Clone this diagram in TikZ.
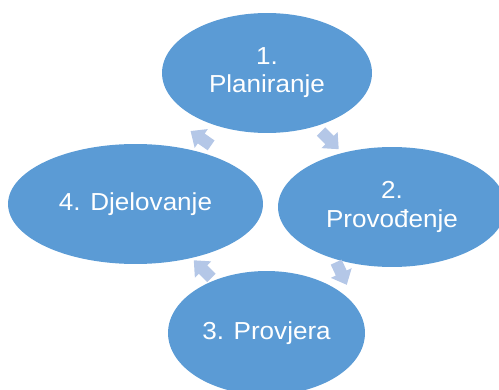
\documentclass[tikz,border=0pt]{standalone}
\usepackage{fontspec}
\setmainfont{Liberation Sans}
\usepackage{graphicx}
\usetikzlibrary{shapes.geometric}
\usetikzlibrary{calc}

\definecolor{phaseblue}{HTML}{5B9BD5}
\definecolor{arrowblue}{HTML}{B4C7E7}
\newcommand{\wide}[1]{\scalebox{1.06}[1]{#1}}
\newcommand{\cyclearrow}[2]{%
  \begin{scope}[shift={(#1)}, rotate=#2]
    \fill[arrowblue] (-12,-6) -- (0,-6) -- (0,-11.5) -- (13,0) -- (0,11.5) -- (0,6) -- (-12,6) -- cycle;
  \end{scope}}

\begin{document}
\begin{tikzpicture}[x=0.02cm, y=0.02cm,
    phase/.style={ellipse, fill=phaseblue, text=white, inner sep=0pt,
      minimum height=2.4cm, align=center,
      font=\fontsize{14}{16}\selectfont}]
\useasboundingbox (0, 0) rectangle (499, 389);
\begin{scope}
    \clip (0, 0) rectangle (499, 389);
    \node[phase, minimum width=4.2cm] (plan) at (267, 316) {\wide{1.}\\\wide{Planiranje}};
    \node[phase, minimum width=4.56cm] (do) at (392, 182) {\wide{2.}\\\wide{Provođenje}};
    \node[phase, minimum width=3.94cm, minimum height=2.48cm] (check) at (266.5, 56) {\wide{3. Provjera}};
    \node[phase, minimum width=5.1cm] (act) at (135.5, 185) {\wide{4. Djelovanje}};
    % arrows between the phases
    \cyclearrow{$(plan)!0.5!(do)$}{-45}
    \cyclearrow{$(do)!0.5!(check)+(12,-3)$}{-65}
    \cyclearrow{$(check)!0.5!(act)+(2,-1)$}{135}
    \cyclearrow{$(act)!0.5!(plan)$}{145}
\end{scope}
\end{tikzpicture}
\end{document}
